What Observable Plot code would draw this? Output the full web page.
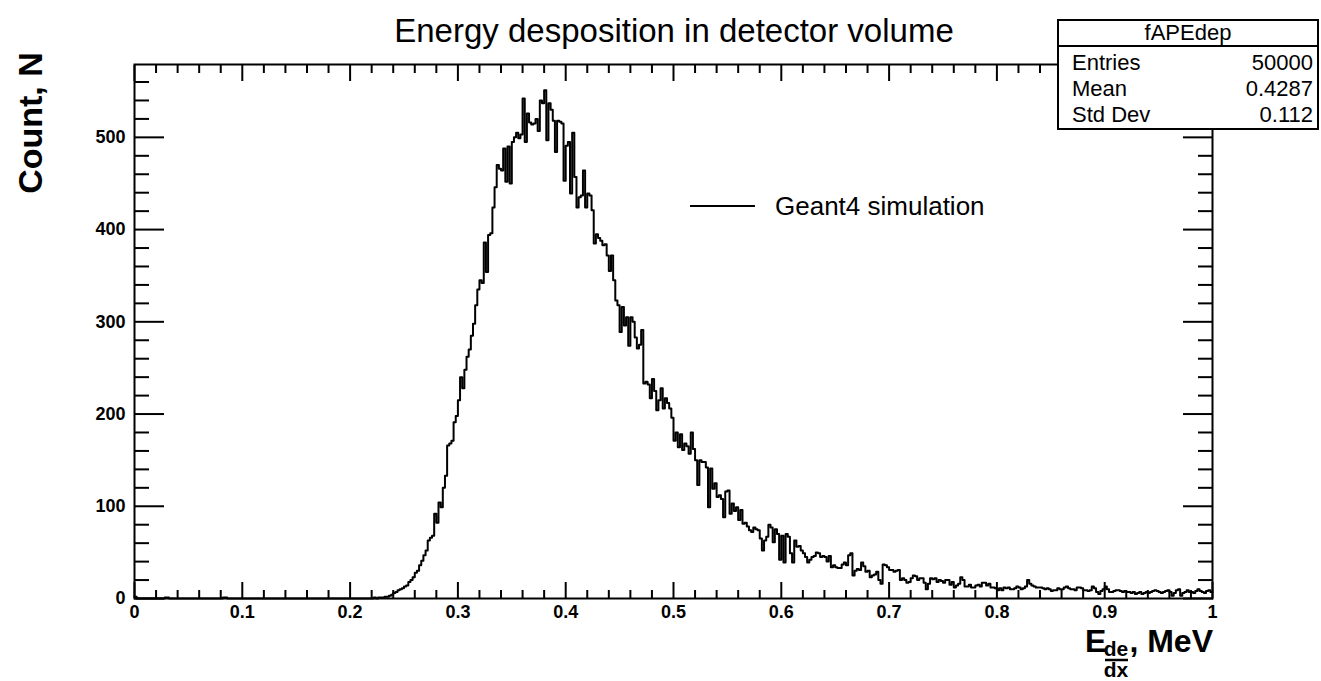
<!DOCTYPE html>
<html><head><meta charset="utf-8">
<script src="https://cdn.jsdelivr.net/npm/d3@7"></script>
<script src="https://cdn.jsdelivr.net/npm/@observablehq/plot@0.6"></script>
<style>
html,body{margin:0;padding:0;background:#fff;}
#chart{width:1321px;height:681px;}
svg{display:block}
</style></head><body><div id="chart"></div>
<script>
// ---- data ----
const binWidth = 0.002; // 500 bins on [0,1]
const counts = [
  2,0,0,0,0,0,0,0,0,0,
  0,0,0,0,1,1,0,0,0,0,
  0,0,0,0,0,0,0,0,0,0,
  0,0,0,0,0,0,0,0,0,0,
  0,1,1,0,0,0,0,0,0,0,
  0,0,0,0,0,0,0,0,0,0,
  0,0,0,0,0,0,0,0,0,0,
  0,0,0,0,0,0,0,0,0,0,
  0,0,0,0,0,0,0,0,0,0,
  0,0,0,0,0,0,0,0,0,0,
  0,0,0,0,0,0,0,0,0,0,
  0,1,0,1,1,1,2,2,3,4,
  6,7,9,10,11,13,14,18,20,23,
  28,30,36,41,47,52,63,66,68,92,
  82,104,99,120,133,166,168,171,191,198,
  215,240,228,248,262,270,285,298,318,335,
  345,342,386,354,394,396,424,446,470,466,
  464,488,452,490,450,495,500,505,499,503,
  542,495,526,516,514,515,520,507,540,537,
  551,497,537,530,518,484,518,517,515,453,
  491,495,439,505,457,424,435,437,464,424,
  439,437,421,385,395,391,388,383,384,372,
  355,372,345,323,318,289,316,296,305,274,
  305,300,283,271,275,291,233,235,232,217,
  238,225,204,215,228,206,217,212,206,196,
  171,180,164,178,161,168,165,157,180,162,
  150,123,150,148,148,142,99,141,119,125,
  110,112,108,88,116,117,92,103,95,99,
  85,96,81,82,78,74,72,77,75,74,
  65,52,63,67,80,77,61,75,70,42,
  68,39,70,67,49,39,63,56,57,52,
  49,45,39,42,45,46,50,49,45,46,
  45,40,46,34,36,34,33,33,37,39,
  36,47,49,25,30,32,31,39,35,29,
  30,23,25,26,29,20,16,37,36,34,
  31,31,29,30,31,20,22,20,17,18,
  22,25,24,20,22,22,17,10,16,22,
  21,22,18,20,19,17,20,20,15,18,
  12,14,16,23,20,13,13,15,12,12,
  14,15,13,17,17,14,16,12,12,11,
  9,11,9,12,11,12,10,10,11,13,
  12,10,11,13,20,16,14,13,12,12,
  12,11,10,11,10,8,9,9,11,10,
  10,12,13,11,10,10,9,12,12,11,
  9,9,8,9,13,11,7,5,8,10,
  13,10,7,7,8,9,9,8,7,8,
  7,7,6,7,5,6,7,5,6,7,
  6,7,8,9,8,7,6,7,8,9,
  7,3,6,9,10,3,6,7,9,7,
  7,6,8,10,8,7,6,8,9,7
];
const xMajorTicks = [0,0.1,0.2,0.3,0.4,0.5,0.6,0.7,0.8,0.9,1];
const xTickLabels = ["0","0.1","0.2","0.3","0.4","0.5","0.6","0.7","0.8","0.9","1"];
const yMajorTicks = [0,100,200,300,400,500];
const yTickLabels = ["0","100","200","300","400","500"];
const yMax = 579;
const titleText = "Energy desposition in detector volume";
const yTitle = "Count, N";
const legendLabel = "Geant4 simulation";
const statsName = "fAPEdep";
const statsLabels = ["Entries","Mean","Std Dev"];
const statsValues = ["50000","0.4287","0.112"];

// minor ticks (every 0.02 on x, every 20 on y)
const xMinorTicks = d3.range(1,50).filter(i => i % 5 !== 0).map(i => i/50);
const yMinorTicks = d3.range(1,29).filter(i => i % 5 !== 0).map(i => i*20);

// step outline table
const steps = counts.map((c,i) => ({x: i*binWidth, y: c}));
steps.push({x: counts.length*binWidth, y: counts[counts.length-1]});

const font = "'Liberation Sans', Arial, Helvetica, sans-serif";
const noText = {tickFormat: () => "", label: null, strokeWidth: 2};

const plot = Plot.plot({
  width: 1321, height: 681,
  marginLeft: 134, marginRight: 109, marginTop: 64, marginBottom: 83,
  x: {domain: [0,1]},
  y: {domain: [0,yMax]},
  style: {fontFamily: font, background: "white", color: "black", overflow: "visible"},
  marks: [
    Plot.line(steps, {x: "x", y: "y", curve: "step-after", stroke: "black", strokeWidth: 2}),
    Plot.frame({stroke: "black", strokeWidth: 2}),
    Plot.axisX({anchor: "bottom", ticks: xMajorTicks, tickSize: 16, dy: -16, ...noText}),
    Plot.axisX({anchor: "bottom", ticks: xMinorTicks, tickSize: 8, dy: -8, ...noText}),
    Plot.axisX({anchor: "top", ticks: xMajorTicks, tickSize: 16, dy: 16, ...noText}),
    Plot.axisX({anchor: "top", ticks: xMinorTicks, tickSize: 8, dy: 8, ...noText}),
    Plot.axisY({anchor: "left", ticks: yMajorTicks, tickSize: 30, dx: 30, ...noText}),
    Plot.axisY({anchor: "left", ticks: yMinorTicks, tickSize: 15, dx: 15, ...noText}),
    Plot.axisY({anchor: "right", ticks: yMajorTicks, tickSize: 30, dx: -30, ...noText}),
    Plot.axisY({anchor: "right", ticks: yMinorTicks, tickSize: 15, dx: -15, ...noText}),
    Plot.axisX({anchor: "bottom", ticks: xMajorTicks, tickSize: 0, tickPadding: 7,
      tickFormat: d => xTickLabels[xMajorTicks.indexOf(d)], label: null}),
    Plot.axisY({anchor: "left", ticks: yMajorTicks, tickSize: 0, tickPadding: 9,
      tickFormat: d => yTickLabels[yMajorTicks.indexOf(d)], label: null})
  ]
});
document.getElementById("chart").appendChild(plot);

// tick-label font (bold like ROOT's Helvetica-bold labels)
d3.select(plot).selectAll("text")
  .attr("font-size", 18).style("font-size", "18px")
  .style("font-weight", "bold").style("font-family", font);

// ---- annotations ----
const svg = d3.select(plot);
const g = svg.append("g").attr("font-family", font).attr("fill", "black")
  .attr("text-anchor", "start").style("font-weight", "normal");

// title
g.append("text").attr("x", 674).attr("y", 42).attr("text-anchor", "middle")
  .style("font-size", "33px").text(titleText);

// stats box
const sb = g.append("g");
sb.append("rect").attr("x", 1058).attr("y", 20).attr("width", 260).attr("height", 109)
  .attr("fill", "white").attr("stroke", "black").attr("stroke-width", 2);
sb.append("line").attr("x1", 1058).attr("x2", 1318).attr("y1", 46).attr("y2", 46)
  .attr("stroke", "black").attr("stroke-width", 2);
sb.append("text").attr("x", 1188).attr("y", 40).attr("text-anchor", "middle")
  .style("font-size", "22px").text(statsName);
statsLabels.forEach((lab, i) => {
  sb.append("text").attr("x", 1072).attr("y", 70 + i*26).attr("text-anchor", "start")
    .style("font-size", "22px").text(lab);
  sb.append("text").attr("x", 1313).attr("y", 70 + i*26).attr("text-anchor", "end")
    .style("font-size", "22px").text(statsValues[i]);
});

// legend
g.append("line").attr("x1", 690).attr("x2", 755).attr("y1", 206).attr("y2", 206)
  .attr("stroke", "black").attr("stroke-width", 2);
g.append("text").attr("x", 775).attr("y", 215).attr("text-anchor", "start")
  .style("font-size", "26px").text(legendLabel);

// y title
g.append("text").attr("transform", "translate(42,123) rotate(-90)").attr("text-anchor", "middle")
  .style("font-size", "34px").style("font-weight", "bold").text(yTitle);

// x title: E_{de/dx}, MeV
const xt = g.append("g").style("font-weight", "bold");
xt.append("text").attr("x", 1085).attr("y", 652).attr("text-anchor", "start").style("font-size", "32px").text("E");
xt.append("text").attr("x", 1116).attr("y", 656).attr("text-anchor", "middle").style("font-size", "21px").text("de");
xt.append("line").attr("x1", 1105).attr("x2", 1128).attr("y1", 660).attr("y2", 660)
  .attr("stroke", "black").attr("stroke-width", 2.5);
xt.append("text").attr("x", 1116).attr("y", 677).attr("text-anchor", "middle").style("font-size", "21px").text("dx");
xt.append("text").attr("x", 1213).attr("y", 652).attr("text-anchor", "end").style("font-size", "32px").text(", MeV");
</script>
</body></html>
